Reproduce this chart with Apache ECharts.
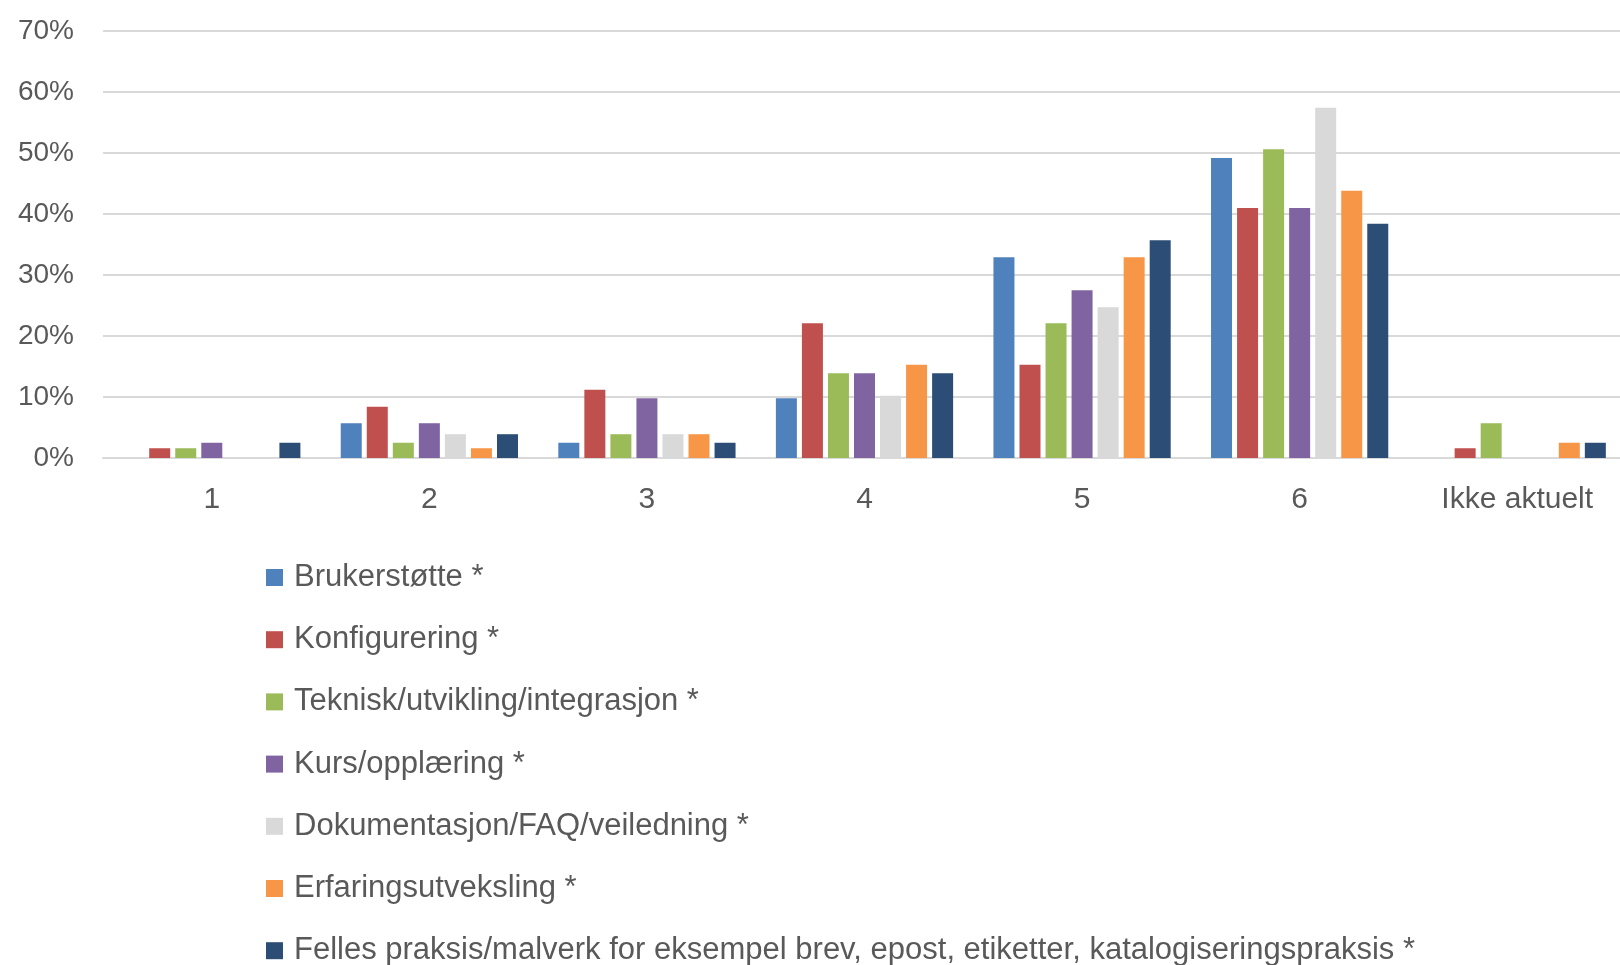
<!DOCTYPE html>
<html>
<head>
<meta charset="utf-8">
<script src="https://cdn.jsdelivr.net/npm/echarts@6/dist/echarts.min.js"></script>
<style>
html,body{margin:0;padding:0;background:#fff;overflow:hidden;}
#c{width:1660px;height:1010px;}
</style>
</head>
<body>
<div id="c"></div>
<script>
const categories = ['1', '2', '3', '4', '5', '6', 'Ikke aktuelt'];
const seriesNames = [
  'Brukerstøtte *',
  'Konfigurering *',
  'Teknisk/utvikling/integrasjon *',
  'Kurs/opplæring *',
  'Dokumentasjon/FAQ/veiledning *',
  'Erfaringsutveksling *',
  'Felles praksis/malverk for eksempel brev, epost, etiketter, katalogiseringspraksis *'
];
const brukerstotte = [0, 5.7, 2.5, 9.8, 32.9, 49.2, 0];
const konfigurering = [1.6, 8.4, 11.2, 22.1, 15.3, 41.0, 1.6];
const teknisk = [1.6, 2.5, 3.9, 13.9, 22.1, 50.6, 5.7];
const kurs = [2.5, 5.7, 9.8, 13.9, 27.5, 41.0, 0];
const dokumentasjon = [0, 3.9, 3.9, 10.2, 24.7, 57.4, 0];
const erfaring = [0, 1.6, 3.9, 15.3, 32.9, 43.8, 2.5];
const felles = [2.5, 3.9, 2.5, 13.9, 35.7, 38.4, 2.5];
const yTicks = {min: 0, max: 70, interval: 10};

const colors = ['#4F81BD', '#C0504D', '#9BBB59', '#8064A2', '#D9D9D9', '#F79646', '#2C4D75'];
const allData = [brukerstotte, konfigurering, teknisk, kurs, dokumentasjon, erfaring, felles];

const chart = echarts.init(document.getElementById('c'), null, {renderer: 'canvas'});
const font = "'Liberation Sans', Arial, sans-serif";
chart.setOption({
  animation: false,
  color: colors,
  grid: {left: 103, top: 31, width: 1523, height: 427},
  legend: {
    orient: 'vertical',
    left: 266,
    top: 562,
    padding: 0,
    itemWidth: 17,
    itemHeight: 17,
    itemGap: 31.2,
    icon: 'rect',
    data: seriesNames,
    textStyle: {fontFamily: font, fontSize: 31, color: '#595959', lineHeight: 30, padding: [0, 0, 0, 6]}
  },
  xAxis: {
    type: 'category',
    data: categories,
    axisLine: {show: true, lineStyle: {color: '#D9D9D9', width: 2}},
    axisTick: {show: false},
    axisLabel: {fontFamily: font, fontSize: 30, color: '#595959', margin: 27}
  },
  yAxis: {
    type: 'value',
    min: yTicks.min, max: yTicks.max, interval: yTicks.interval,
    axisLine: {show: false},
    axisTick: {show: false},
    splitLine: {lineStyle: {color: '#D9D9D9', width: 2}},
    axisLabel: {fontFamily: font, fontSize: 28, color: '#595959', margin: 29, formatter: '{value}%'}
  },
  series: seriesNames.map((n, i) => ({
    name: n,
    type: 'bar',
    data: allData[i],
    barWidth: 21,
    barGap: '24%'
  }))
});
</script>
</body>
</html>
